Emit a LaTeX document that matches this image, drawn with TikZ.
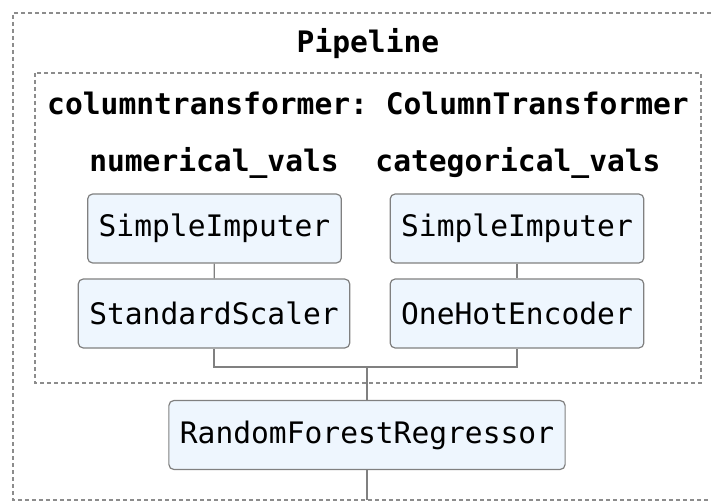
\documentclass[tikz,border=0pt]{standalone}
\usepackage{fontspec}
\setmonofont{DejaVu Sans Mono}
\definecolor{boxfill}{HTML}{EEF6FE}
\definecolor{boxline}{HTML}{808080}
\definecolor{dashline}{HTML}{8C8C8C}
\tikzset{
  est/.style={draw=boxline,fill=boxfill,rounded corners=5pt,line width=1.2pt,
    minimum height=69pt,inner xsep=11pt,font=\ttfamily\fontsize{29.6}{36}\selectfont},
  lbl/.style={anchor=base,font=\ttfamily\bfseries\fontsize{29.6}{36}\selectfont},
  frame/.style={draw=dashline,line width=1.2pt,dash pattern=on 4pt off 3pt},
  link/.style={draw=boxline,line width=1.3pt}
}
\begin{document}
\begin{tikzpicture}[x=1pt,y=-1pt]
\useasboundingbox (0,0) rectangle (711,502);
\draw[frame](711,13)--(13,13)--(13,500)--(711,500);
\draw[frame](35,73) rectangle (701,383);
\node[lbl] (pipe) at (368,53) {Pipeline};
\node[lbl] (ct) at (368,115) {columntransformer: ColumnTransformer};
\node[lbl] (num) at (214,172) {numerical\_vals};
\node[lbl] (cat) at (518,172) {categorical\_vals};
\node[est] (imp1) at (214.5,228.5) {SimpleImputer};
\node[est] (scal) at (214,313.5) {StandardScaler};
\node[est] (imp2) at (517,228.5) {SimpleImputer};
\node[est] (ohe) at (517,313.5) {OneHotEncoder};
\node[est] (rf) at (367,435) {RandomForestRegressor};
\coordinate (join) at (367,367);
\coordinate (out) at (367,500);
\draw[link](imp1)--(scal);
\draw[link](imp2)--(ohe);
\draw[link](scal.south)|-(join)-|(ohe.south);
\draw[link](join)--(rf);
\draw[link](rf)--(out);
\end{tikzpicture}
\end{document}
